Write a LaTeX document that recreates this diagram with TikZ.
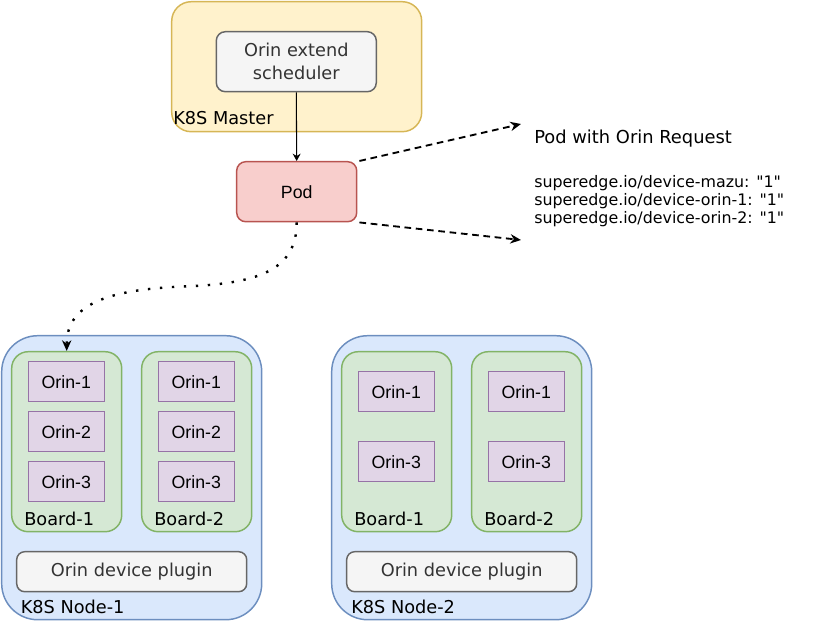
\documentclass[tikz,border=0pt]{standalone}
\usepackage{fontspec}
\setmainfont[Ligatures=TeXOff]{DejaVu Sans}
\newfontfamily\helv{Liberation Sans}
\usetikzlibrary{arrows.meta}
\definecolor{masterfill}{HTML}{FFF2CC}\definecolor{masterdraw}{HTML}{D6B656}
\definecolor{greyfill}{HTML}{F5F5F5}\definecolor{greydraw}{HTML}{666666}\definecolor{greytext}{HTML}{333333}
\definecolor{podfill}{HTML}{F8CECC}\definecolor{poddraw}{HTML}{B85450}
\definecolor{nodefill}{HTML}{DAE8FC}\definecolor{nodedraw}{HTML}{6C8EBF}
\definecolor{boardfill}{HTML}{D5E8D4}\definecolor{boarddraw}{HTML}{82B366}
\definecolor{orinfill}{HTML}{E1D5E7}\definecolor{orindraw}{HTML}{9673A6}
\begin{document}
\begin{tikzpicture}[x=0.75pt,y=-0.75pt,
  wh/.style 2 args={minimum width=#1*0.75pt, minimum height=#2*0.75pt},
  base/.style={draw, line width=1.1pt, inner sep=0pt, align=center, font=\fontsize{13.3}{17}\selectfont},
  masterbox/.style={base, fill=masterfill, draw=masterdraw, rounded corners=14.6pt},
  greybox/.style={base, fill=greyfill, draw=greydraw, text=greytext, rounded corners=6pt},
  podbox/.style={base, fill=podfill, draw=poddraw, rounded corners=6.75pt, font=\helv\fontsize{13.3}{16}\selectfont},
  k8snode/.style={base, fill=nodefill, draw=nodedraw, rounded corners=27pt},
  boardbox/.style={base, fill=boardfill, draw=boarddraw, rounded corners=12.4pt},
  orinbox/.style={base, fill=orinfill, draw=orindraw, font=\helv\fontsize{13.3}{16}\selectfont},
  lbl/.style={anchor=west, inner sep=0pt, font=\fontsize{13.3}{16}\selectfont},
  smalltip/.style={-{Stealth[length=5.5pt,width=6pt,inset=1.8pt]}},
  bigtip/.style={-{Stealth[length=8pt,width=7pt,inset=2.6pt]}},
  solidarrow/.style={line width=0.8pt, smalltip},
  dasharrow/.style={line width=1.4pt, dash pattern=on 5pt off 3.5pt, bigtip},
  dotarrow/.style={line width=1.8pt, dash pattern=on 1.8pt off 7.2pt, bigtip}
]
\useasboundingbox (0,0) rectangle (822,622);

% master
\node[masterbox, wh={250}{130}] (master) at (296.7,66.7) {};
\node[greybox, wh={160}{60}, rounded corners=6.75pt] (sched) at (296.3,61.7) {Orin extend\\scheduler};
\node[lbl] (masterlbl) at (173,118) {K8S Master};

% pod
\node[podbox, wh={120}{60}] (pod) at (296.7,191.7) {Pod};

% request text
\node[anchor=west, inner sep=0pt, font=\fontsize{13.4}{16}\selectfont] (reqtitle) at (534,139) {Pod with Orin Request};
\node[anchor=west, inner sep=0pt, align=left, font=\fontsize{11.9}{13.5}\selectfont] (reqlines) at (534,201.5)
  {superedge.io/device-mazu: "1"\\superedge.io/device-orin-1: "1"\\superedge.io/device-orin-2: "1"};
\coordinate (t1) at (521,124);
\coordinate (t2) at (521,240);

% node 1
\node[k8snode, wh={260}{284}] (n1) at (131.7,477.7) {};
\node[boardbox, wh={110}{180}] (n1b1) at (66.7,441.7) {};
\node[boardbox, wh={110}{180}] (n1b2) at (196.7,441.7) {};
\node[orinbox, wh={76}{40}] (n1b1o1) at (66.3,381.7) {Orin-1};
\node[orinbox, wh={76}{40}] (n1b1o2) at (66.3,431.7) {Orin-2};
\node[orinbox, wh={76}{40}] (n1b1o3) at (66.3,481.7) {Orin-3};
\node[orinbox, wh={76}{40}] (n1b2o1) at (196.3,381.7) {Orin-1};
\node[orinbox, wh={76}{40}] (n1b2o2) at (196.3,431.7) {Orin-2};
\node[orinbox, wh={76}{40}] (n1b2o3) at (196.3,481.7) {Orin-3};
\node[lbl] (n1b1lbl) at (24,518.5) {Board-1};
\node[lbl] (n1b2lbl) at (154,518.5) {Board-2};
\node[greybox, wh={230}{40}] (n1plug) at (131.7,571.7) {Orin device plugin};
\node[lbl] (n1lbl) at (20.5,607) {K8S Node-1};

% node 2
\node[k8snode, wh={260}{284}] (n2) at (461.7,477.7) {};
\node[boardbox, wh={110}{180}] (n2b1) at (396.7,441.7) {};
\node[boardbox, wh={110}{180}] (n2b2) at (526.7,441.7) {};
\node[orinbox, wh={76}{40}] (n2b1o1) at (396.3,391.7) {Orin-1};
\node[orinbox, wh={76}{40}] (n2b1o3) at (396.3,461.7) {Orin-3};
\node[orinbox, wh={76}{40}] (n2b2o1) at (526.3,391.7) {Orin-1};
\node[orinbox, wh={76}{40}] (n2b2o3) at (526.3,461.7) {Orin-3};
\node[lbl] (n2b1lbl) at (354,518.5) {Board-1};
\node[lbl] (n2b2lbl) at (484,518.5) {Board-2};
\node[greybox, wh={230}{40}] (n2plug) at (461.7,571.7) {Orin device plugin};
\node[lbl] (n2lbl) at (351,607) {K8S Node-2};

% connectors
\draw[solidarrow] (sched.south) -- (pod.north);
\draw[dasharrow] (pod.north east) ++(2,0) -- (t1);
\draw[dasharrow] (pod.south east) ++(2,0) -- (t2);
\coordinate (mid) at (190,286.2);
\draw[dotarrow] (pod.south) .. controls (296.7,268) and (262,283) .. (mid)
  .. controls (105,289) and (66.7,305) .. (n1b1.north);
\end{tikzpicture}
\end{document}
